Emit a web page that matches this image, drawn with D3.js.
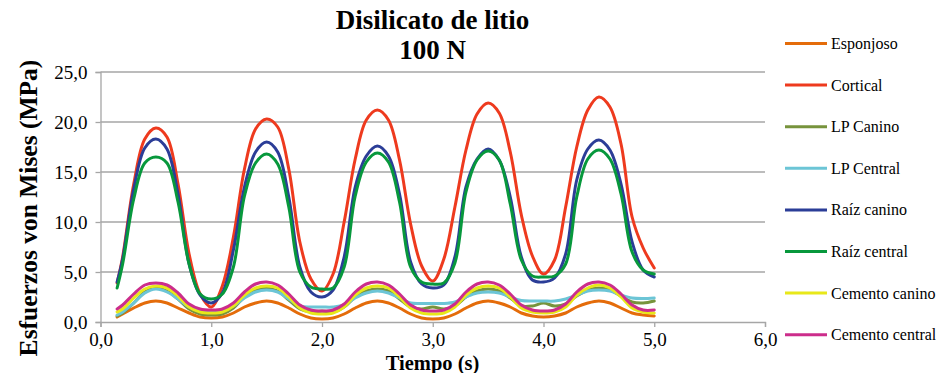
<!DOCTYPE html>
<html>
<head>
<meta charset="utf-8">
<script src="https://cdn.jsdelivr.net/npm/d3@7"></script>
<style>
  html, body { margin: 0; padding: 0; background: #fff; }
  svg { display: block; }
  svg text { font-family: "Liberation Serif", "Times New Roman", serif; fill: #000; }
</style>
</head>
<body>
<svg id="chart" width="936" height="373"></svg>
<script>
const times = [0.15, 0.2, 0.3, 0.4, 0.5, 0.6, 0.7, 0.8, 0.9, 1.0,
  1.1, 1.2, 1.3, 1.4, 1.5, 1.6, 1.7, 1.8, 1.9, 2.0,
  2.1, 2.2, 2.3, 2.4, 2.5, 2.6, 2.7, 2.8, 2.9, 3.0,
  3.1, 3.2, 3.3, 3.4, 3.5, 3.6, 3.7, 3.8, 3.9, 4.0,
  4.1, 4.2, 4.3, 4.4, 4.5, 4.6, 4.7, 4.8, 4.9, 5.0];

const esponjoso = [0.5, 0.8, 1.4, 1.9, 2.1, 1.9, 1.4, 0.9, 0.5, 0.4,
  0.5, 0.9, 1.5, 1.9, 2.1, 1.9, 1.4, 0.8, 0.4, 0.3,
  0.4, 0.8, 1.4, 1.9, 2.1, 1.9, 1.4, 0.8, 0.4, 0.3,
  0.4, 0.8, 1.4, 1.9, 2.1, 1.9, 1.5, 0.9, 0.6, 0.5,
  0.6, 0.9, 1.5, 1.9, 2.1, 1.9, 1.4, 0.9, 0.7, 0.6];

const cortical = [3.9, 6.5, 13.8, 18.3, 19.4, 18.5, 13.8, 6.8, 2.8, 1.5,
  3.6, 8.5, 15.3, 19.3, 20.3, 19.5, 15.3, 8.0, 4.3, 3.1,
  4.8, 10.0, 16.3, 20.2, 21.2, 20.2, 16.2, 9.8, 5.6, 4.1,
  6.3, 11.5, 17.2, 20.8, 21.9, 20.9, 17.0, 10.7, 6.6, 4.8,
  6.2, 11.5, 17.5, 21.2, 22.5, 21.5, 17.8, 10.5, 7.4, 5.4];

const lpCanino = [0.6, 0.9, 1.9, 3.0, 3.4, 3.1, 2.3, 1.3, 0.8, 0.7,
  0.8, 1.4, 2.5, 3.2, 3.4, 3.1, 2.2, 1.3, 1.0, 1.1,
  1.0, 1.5, 2.5, 3.1, 3.3, 3.1, 2.3, 1.5, 1.3, 1.5,
  1.3, 1.6, 2.5, 3.1, 3.3, 3.1, 2.4, 1.6, 1.6, 1.9,
  1.6, 1.8, 2.6, 3.2, 3.4, 3.2, 2.6, 2.0, 1.9, 2.1];

const lpCentral = [0.7, 1.0, 1.9, 2.9, 3.3, 3.0, 2.3, 1.5, 1.1, 1.0,
  1.1, 1.6, 2.4, 3.0, 3.2, 3.0, 2.3, 1.6, 1.5, 1.5,
  1.5, 1.7, 2.4, 2.9, 3.1, 2.9, 2.4, 1.9, 1.85, 1.85,
  1.85, 2.0, 2.5, 2.9, 3.0, 2.9, 2.5, 2.15, 2.1, 2.1,
  2.1, 2.3, 2.7, 3.1, 3.2, 3.1, 2.7, 2.4, 2.35, 2.4];

const raizCanino = [4.0, 6.3, 13.3, 17.4, 18.3, 17.3, 12.8, 5.8, 2.7, 1.9,
  2.9, 7.2, 13.5, 17.0, 18.0, 17.0, 12.5, 5.5, 3.0, 2.5,
  3.2, 6.5, 13.5, 16.6, 17.6, 16.6, 12.8, 6.0, 3.8, 3.4,
  3.7, 6.5, 13.5, 16.3, 17.3, 16.2, 12.5, 6.5, 4.2, 4.0,
  4.4, 6.8, 14.2, 17.3, 18.2, 17.2, 13.8, 8.0, 5.2, 4.5];

const raizCentral = [3.4, 5.8, 12.3, 15.9, 16.5, 15.9, 12.0, 5.8, 2.8, 2.3,
  2.8, 5.5, 12.6, 15.9, 16.8, 15.8, 11.5, 5.0, 3.5, 3.3,
  3.4, 5.5, 12.6, 16.0, 16.9, 16.0, 12.0, 5.5, 4.0, 3.8,
  3.9, 5.9, 13.0, 16.2, 17.1, 16.2, 11.8, 6.2, 4.6, 4.5,
  4.6, 5.8, 12.5, 16.3, 17.2, 16.3, 12.8, 7.0, 5.2, 4.8];

const cementoCanino = [1.0, 1.3, 2.4, 3.3, 3.6, 3.4, 2.6, 1.5, 1.0, 0.9,
  1.0, 1.6, 2.7, 3.4, 3.6, 3.4, 2.5, 1.4, 0.9, 0.8,
  0.9, 1.5, 2.7, 3.4, 3.6, 3.4, 2.5, 1.4, 0.9, 0.8,
  0.9, 1.5, 2.7, 3.4, 3.6, 3.4, 2.5, 1.4, 1.0, 0.9,
  1.0, 1.5, 2.7, 3.4, 3.7, 3.4, 2.5, 1.4, 1.0, 0.9];

const cementoCentral = [1.3, 1.7, 2.8, 3.7, 3.9, 3.7, 2.9, 1.8, 1.3, 1.2,
  1.3, 1.9, 3.0, 3.8, 4.0, 3.7, 2.8, 1.7, 1.2, 1.1,
  1.2, 1.8, 3.0, 3.8, 4.0, 3.7, 2.8, 1.7, 1.2, 1.1,
  1.2, 1.8, 3.0, 3.8, 4.0, 3.7, 2.8, 1.7, 1.2, 1.1,
  1.2, 1.8, 3.0, 3.8, 4.0, 3.7, 2.8, 1.7, 1.2, 1.2];

const seriesNames = ["Esponjoso", "Cortical", "LP Canino", "LP Central",
  "Raíz canino", "Raíz central", "Cemento canino", "Cemento central"];
const seriesValues = [esponjoso, cortical, lpCanino, lpCentral,
  raizCanino, raizCentral, cementoCanino, cementoCentral];
const seriesColors = ["#E46C0A", "#EE3A1E", "#77933C", "#6CC5D6",
  "#2B3D97", "#07983C", "#E8E81A", "#CC2D8B"];

const xTicks = [0, 1, 2, 3, 4, 5, 6];
const yTicks = [0, 5, 10, 15, 20, 25];
const fmt = v => v.toFixed(1).replace(".", ",");
const FONT = "'Liberation Serif', 'Times New Roman', serif";

const svg = d3.select("#chart").attr("font-family", FONT);
const x = d3.scaleLinear().domain([0, 6]).range([100.5, 765]);
const y = d3.scaleLinear().domain([0, 25]).range([322, 72]);
const grid = "#A6A6A6";

// gridlines
svg.append("g").selectAll("line").data(yTicks.filter(d => d > 0)).join("line")
  .attr("x1", x(0)).attr("x2", x(6))
  .attr("y1", d => y(d)).attr("y2", d => y(d))
  .attr("stroke", grid).attr("stroke-width", 1.3);

// y axis
const yAxis = svg.append("g").attr("transform", `translate(${x(0)},0)`)
  .call(d3.axisLeft(y).tickValues(yTicks).tickFormat(fmt).tickSize(5).tickPadding(8));
yAxis.attr("font-family", FONT).attr("font-size", 19);
yAxis.select(".domain").attr("stroke", grid).attr("stroke-width", 1.3);
yAxis.selectAll(".tick line").attr("stroke", grid).attr("stroke-width", 1.3);
yAxis.selectAll(".tick text").attr("dy", "0.34em");

// x axis
const xAxis = svg.append("g").attr("transform", `translate(0,${y(0)})`)
  .call(d3.axisBottom(x).tickValues(xTicks).tickFormat(fmt).tickSize(5).tickPadding(7));
xAxis.attr("font-family", FONT).attr("font-size", 19);
xAxis.select(".domain").attr("stroke", grid).attr("stroke-width", 1.3);
xAxis.selectAll(".tick line").attr("stroke", grid).attr("stroke-width", 1.3);
xAxis.selectAll(".tick text").attr("dy", "0.62em");

// lines
const line = d3.line().x((d, i) => x(times[i])).y(d => y(d)).curve(d3.curveCatmullRom.alpha(0.5));
svg.append("g").selectAll("path").data(seriesValues).join("path")
  .attr("d", d => line(d))
  .attr("fill", "none")
  .attr("stroke", (d, i) => seriesColors[i])
  .attr("stroke-width", 3)
  .attr("stroke-linejoin", "round").attr("stroke-linecap", "round");

// titles
svg.append("text").attr("x", 432.5).attr("y", 28.5).attr("text-anchor", "middle")
  .style("font-weight", "bold").style("font-size", "27px").text("Disilicato de litio");
svg.append("text").attr("x", 432.5).attr("y", 59).attr("text-anchor", "middle")
  .style("font-weight", "bold").style("font-size", "27px").text("100 N");
svg.append("text").attr("transform", "translate(37,208) rotate(-90)").attr("text-anchor", "middle")
  .style("font-weight", "bold").style("font-size", "25.5px").text("Esfuerzos von Mises (MPa)");
svg.append("text").attr("x", 432.5).attr("y", 369.5).attr("text-anchor", "middle")
  .style("font-weight", "bold").style("font-size", "20.5px").text("Tiempo (s)");

// legend
const leg = svg.append("g").selectAll("g").data(seriesNames).join("g")
  .attr("transform", (d, i) => `translate(785,${43.5 + i * 41.6})`);
leg.append("line").attr("x1", 0).attr("x2", 42).attr("y1", 0).attr("y2", 0)
  .attr("stroke", (d, i) => seriesColors[i]).attr("stroke-width", 3);
leg.append("text").attr("x", 46).attr("y", 5.5).style("font-size", "16px").text(d => d);
</script>
</body>
</html>
